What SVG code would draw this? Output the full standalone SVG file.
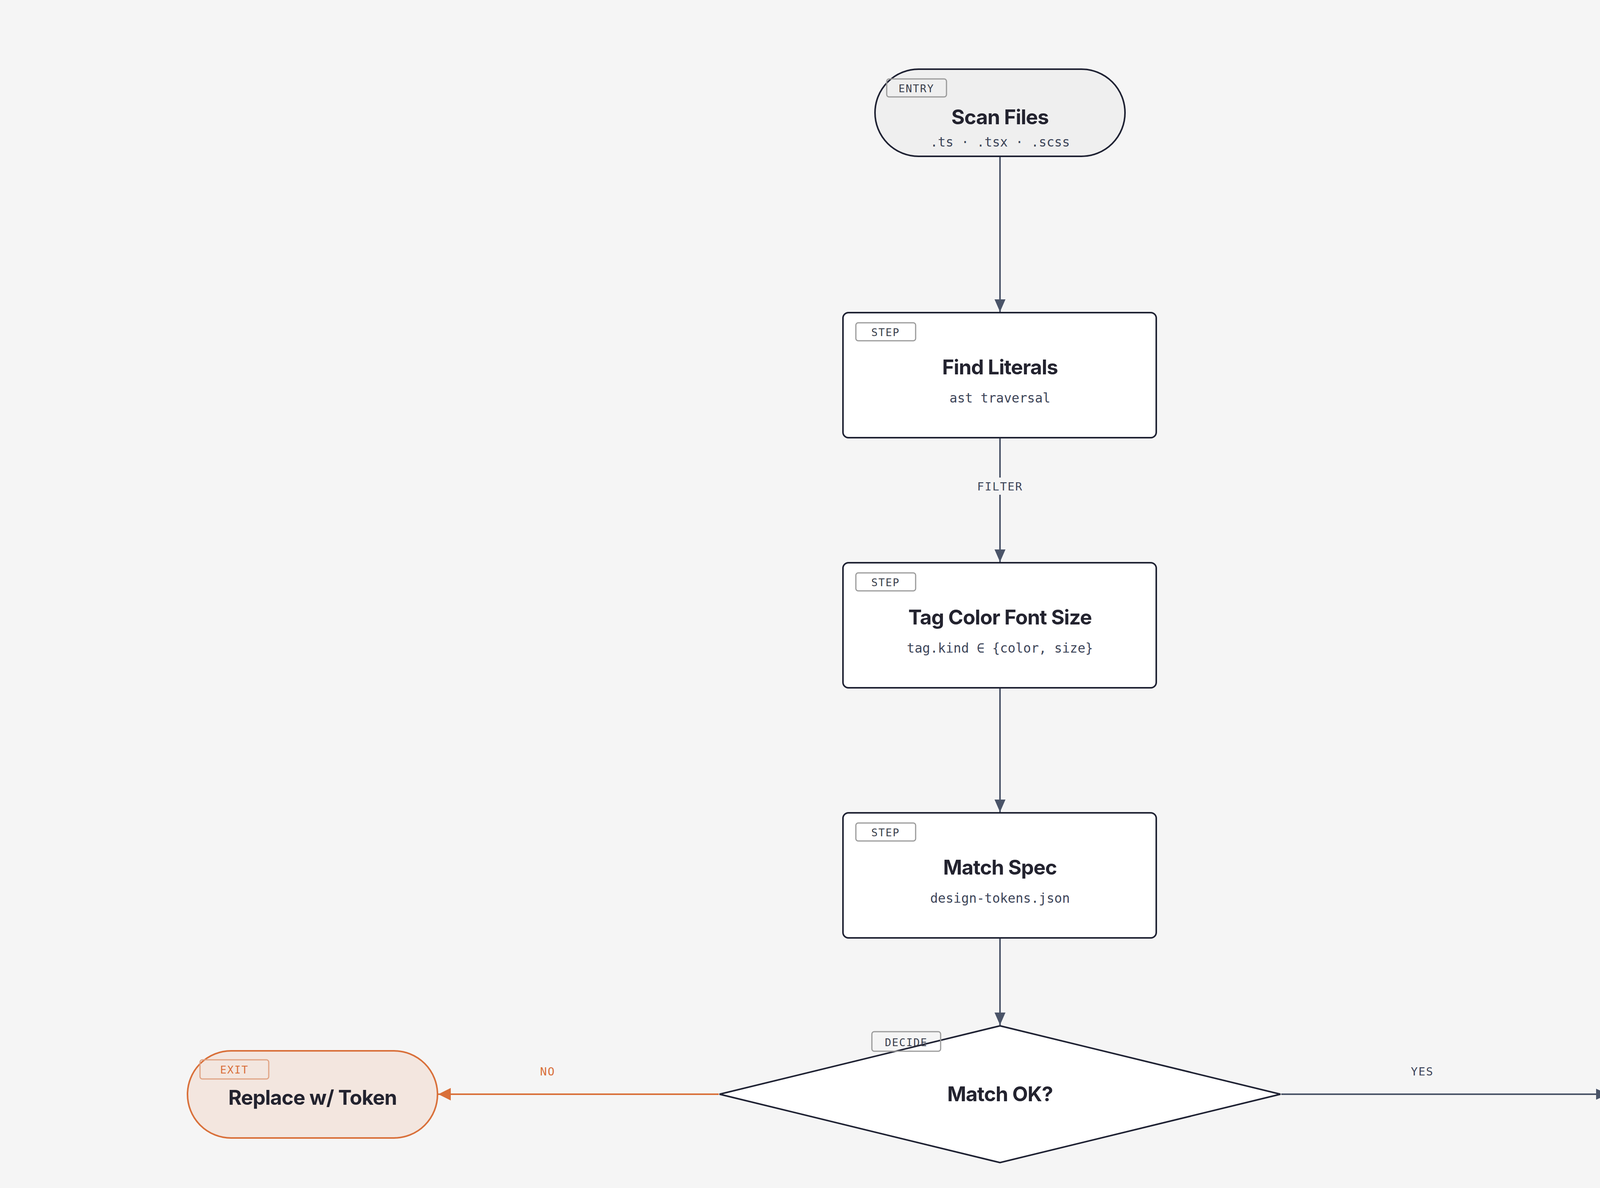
<svg xmlns="http://www.w3.org/2000/svg" width="5120" height="3040" viewBox="0 0 5120 3040">
<style>
.t{font-family:Inter,"Liberation Sans",sans-serif;font-weight:700;font-size:52px;fill:#23232f;text-anchor:middle;letter-spacing:-1px}
.s{font-family:"DejaVu Sans Mono","Liberation Mono",monospace;font-size:33px;fill:#3c4458;text-anchor:middle}
.b{font-family:"DejaVu Sans Mono","Liberation Mono",monospace;font-size:27px;fill:#3a3f4c;text-anchor:middle;letter-spacing:2px}
.bb{fill:none;stroke:#9a9a9a;stroke-width:3}
.n{stroke:#1f2233;stroke-width:4}
.c{fill:none;stroke:#4a5468;stroke-width:4}
.lbl{font-family:"DejaVu Sans Mono","Liberation Mono",monospace;font-size:29px;fill:#3c4458;text-anchor:middle;letter-spacing:2px}
</style>
<defs>
<marker id="ao" viewBox="0 0 32 32" refX="32" refY="16" markerWidth="32" markerHeight="32" markerUnits="userSpaceOnUse" orient="auto">
<path d="M0,0L32,16L0,32Z" fill="#d9703a"/>
</marker>
<marker id="ag" viewBox="0 0 32 32" refX="32" refY="16" markerWidth="32" markerHeight="32" markerUnits="userSpaceOnUse" orient="auto">
<path d="M0,2L32,16L0,30Z" fill="#4a5468"/>
</marker>
</defs>
<rect width="5120" height="3040" fill="#f5f5f5"/>
<g id="connectors">
<line class="c" x1="2560" y1="400" x2="2560" y2="798" marker-end="url(#ag)"/>
<line class="c" x1="2560" y1="1120" x2="2560" y2="1438" marker-end="url(#ag)"/>
<rect x="2484" y="1222" width="152" height="44" fill="#f5f5f5"/>
<text class="lbl" x="2560" y="1255">FILTER</text>
<line class="c" x1="2560" y1="1760" x2="2560" y2="2078" marker-end="url(#ag)"/>
<line class="c" x1="2560" y1="2400" x2="2560" y2="2623" marker-end="url(#ag)"/>
<line class="c" x1="3280" y1="2800" x2="4118" y2="2800" marker-end="url(#ag)"/>
<text class="lbl" x="3641" y="2752">YES</text>
<line x1="1840" y1="2800" x2="1122" y2="2800" stroke="#d9703a" stroke-width="4" marker-end="url(#ao)"/>
<text class="lbl" x="1402" y="2752" style="fill:#d9703a">NO</text>
</g>
<g id="scan">
<rect class="n" x="2240" y="177" width="640" height="223" rx="111.5" fill="#efefef"/>
<rect class="bb" x="2270" y="202" width="153" height="46" rx="6"/>
<text class="b" x="2346" y="236">ENTRY</text>
<text class="t" x="2560" y="318">Scan Files</text>
<text class="s" x="2560" y="375">.ts · .tsx · .scss</text>
</g>
<g id="find">
<rect class="n" x="2158" y="800" width="802" height="320" rx="14" fill="#fff"/>
<rect class="bb" x="2191" y="826" width="153" height="46" rx="6"/>
<text class="b" x="2267" y="860">STEP</text>
<text class="t" x="2560" y="958">Find Literals</text>
<text class="s" x="2560" y="1030">ast traversal</text>
</g>
<g id="tag">
<rect class="n" x="2158" y="1440" width="802" height="320" rx="14" fill="#fff"/>
<rect class="bb" x="2191" y="1466" width="153" height="46" rx="6"/>
<text class="b" x="2267" y="1500">STEP</text>
<text class="t" x="2560" y="1598">Tag Color Font Size</text>
<text class="s" x="2560" y="1670">tag.kind ∈ {color, size}</text>
</g>
<g id="match">
<rect class="n" x="2158" y="2080" width="802" height="320" rx="14" fill="#fff"/>
<rect class="bb" x="2191" y="2106" width="153" height="46" rx="6"/>
<text class="b" x="2267" y="2140">STEP</text>
<text class="t" x="2560" y="2238">Match Spec</text>
<text class="s" x="2560" y="2310">design-tokens.json</text>
</g>
<g id="decide">
<polygon class="n" points="2560,2625 3278,2800 2560,2975 1842,2800" fill="#fff"/>
<rect class="bb" x="2232" y="2640" width="176" height="50" rx="6"/>
<text class="b" x="2320" y="2677">DECIDE</text>
<text class="t" x="2560" y="2818">Match OK?</text>
</g>
<g id="replace">
<rect x="480" y="2689" width="640" height="223" rx="111.5" fill="#f3e6df" stroke="#d9703a" stroke-width="4"/>
<rect x="512" y="2712" width="176" height="49" rx="6" fill="none" stroke="#e0a384" stroke-width="3"/>
<text class="b" x="600" y="2747" style="fill:#d9703a">EXIT</text>
<text class="t" x="800" y="2827">Replace w/ Token</text>
</g>
<g id="pass">
<rect class="n" x="4120" y="2689" width="560" height="223" rx="111.5" fill="#efefef"/>
<rect class="bb" x="4150" y="2712" width="176" height="49" rx="6"/>
<text class="b" x="4238" y="2747">EXIT</text>
<text class="t" x="4400" y="2827">Pass</text>
</g>
<text x="5053" y="2970" text-anchor="end" font-family="'Noto Sans','Noto Sans CJK SC',sans-serif" font-size="28" fill="#888">掘金技术社区 @ Shockang</text>
</svg>
